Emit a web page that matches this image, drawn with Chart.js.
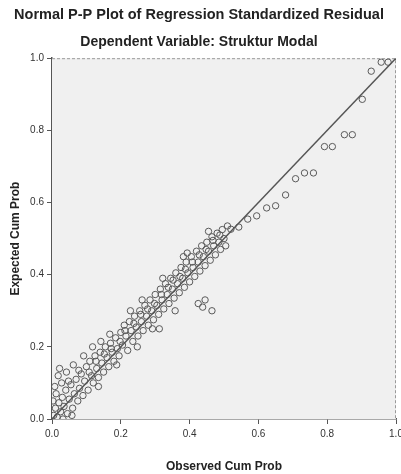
<!DOCTYPE html>
<html>
<head>
<meta charset="utf-8">
<script src="https://cdn.jsdelivr.net/npm/chart.js@4.4.0/dist/chart.umd.min.js"></script>
<style>
  html, body { margin: 0; padding: 0; background: #ffffff; }
  #c { display: block; }
</style>
</head>
<body>
<canvas id="c" width="401" height="474"></canvas>
<script>
// Observed cumulative probability (x) and expected cumulative probability (y)
const observedCumProb = [
  0.005,0.010,0.015,0.020,0.025,0.030,0.012,0.035,0.040,0.045,0.050,0.055,0.060,0.065,0.070,0.075,0.008,0.018,0.028,0.080,0.085,0.090,0.042,0.095,0.100,
  0.105,0.110,0.115,0.120,0.125,0.130,0.135,0.140,0.145,0.150,0.155,0.160,0.165,0.170,0.175,0.180,0.185,0.190,0.195,0.200,0.118,0.142,0.168,0.135,0.188,
  0.205,0.210,0.215,0.220,0.225,0.230,0.235,0.240,0.245,0.250,0.255,0.260,0.265,0.270,0.275,0.280,0.285,0.290,0.295,0.300,0.228,0.262,0.248,0.292,
  0.305,0.310,0.315,0.320,0.325,0.330,0.335,0.340,0.345,0.350,0.355,0.360,0.365,0.370,0.375,0.380,0.385,0.390,0.395,0.400,0.322,0.358,0.382,0.312,0.393,
  0.405,0.410,0.415,0.420,0.425,0.430,0.435,0.440,0.445,0.450,0.455,0.460,0.465,0.470,0.475,0.480,0.485,0.490,0.495,0.500,0.505,0.510,0.438,0.465,0.455,
  0.022,0.048,0.062,0.078,0.092,0.108,0.128,0.152,0.172,0.198,0.212,0.238,0.258,0.278,0.298,0.318,0.338,0.352,0.372,0.388,
  0.408,0.428,0.448,0.468,0.488,0.032,0.058,0.003,0.445,0.425,
  0.520,0.543,0.569,0.595,0.624,0.650,0.679,0.708,0.734,0.760,0.792,0.815,0.850,0.873,0.902,0.928,0.957,0.977
];
const expectedCumProb = [
  0.010,0.030,0.005,0.045,0.020,0.060,0.070,0.035,0.080,0.015,0.055,0.095,0.030,0.070,0.110,0.050,0.090,0.120,0.100,0.085,0.125,0.065,0.130,0.105,0.145,
  0.080,0.160,0.120,0.100,0.175,0.140,0.115,0.185,0.155,0.130,0.200,0.170,0.145,0.210,0.185,0.160,0.225,0.195,0.175,0.240,0.200,0.215,0.235,0.090,0.150,
  0.205,0.260,0.230,0.190,0.270,0.245,0.215,0.285,0.255,0.230,0.300,0.270,0.245,0.315,0.285,0.260,0.330,0.300,0.275,0.345,0.300,0.330,0.200,0.250,
  0.315,0.290,0.360,0.330,0.305,0.375,0.345,0.320,0.390,0.360,0.335,0.405,0.375,0.350,0.420,0.390,0.365,0.435,0.405,0.380,0.390,0.300,0.450,0.250,0.460,
  0.450,0.420,0.395,0.465,0.435,0.410,0.480,0.450,0.425,0.490,0.465,0.440,0.505,0.480,0.455,0.515,0.490,0.470,0.525,0.500,0.480,0.535,0.310,0.300,0.520,
  0.140,0.105,0.150,0.135,0.175,0.130,0.160,0.180,0.195,0.215,0.245,0.265,0.290,0.305,0.320,0.345,0.365,0.385,0.395,0.415,
  0.435,0.455,0.470,0.495,0.510,0.000,0.010,0.050,0.330,0.320,
  0.526,0.532,0.554,0.563,0.585,0.591,0.621,0.666,0.682,0.682,0.755,0.755,0.788,0.788,0.886,0.964,0.989,0.989
];
const axisTicks = [0.0, 0.2, 0.4, 0.6, 0.8, 1.0];
const titleText = 'Normal P-P Plot of Regression Standardized Residual';
const subtitleText = 'Dependent Variable: Struktur Modal';
const xTitle = 'Observed Cum Prob';
const yTitle = 'Expected Cum Prob';

const points = observedCumProb.map((x, i) => ({ x: x, y: expectedCumProb[i] }));
const diagonal = [{ x: axisTicks[0], y: axisTicks[0] }, { x: axisTicks[axisTicks.length - 1], y: axisTicks[axisTicks.length - 1] }];

const plotBg = {
  id: 'plotBg',
  beforeDatasetsDraw(chart) {
    const a = chart.chartArea, ctx = chart.ctx;
    ctx.save();
    ctx.fillStyle = '#f0f0f0';
    ctx.fillRect(a.left, a.top, a.right - a.left, a.bottom - a.top);
    ctx.strokeStyle = '#9a9a9a';
    ctx.lineWidth = 1;
    ctx.setLineDash([3, 2]);
    ctx.beginPath();
    ctx.moveTo(a.left, a.top + 0.5);
    ctx.lineTo(a.right - 0.5, a.top + 0.5);
    ctx.lineTo(a.right - 0.5, a.bottom);
    ctx.stroke();
    ctx.restore();
  }
};

const fontFam = '"Liberation Sans", Arial, sans-serif';

new Chart(document.getElementById('c'), {
  data: {
    datasets: [
      {
        type: 'scatter',
        data: points,
        pointStyle: 'circle',
        pointRadius: 3.2,
        pointBorderWidth: 1,
        pointBorderColor: '#5a5a5a',
        pointBackgroundColor: 'rgba(0,0,0,0)',
        order: 2
      },
      {
        type: 'line',
        data: diagonal,
        borderColor: '#555555',
        borderWidth: 1.5,
        pointRadius: 0,
        fill: false,
        order: 1
      }
    ]
  },
  options: {
    responsive: false,
    animation: false,
    devicePixelRatio: 1,
    layout: { padding: { left: 0, right: 3, top: 0, bottom: 0 } },
    plugins: {
      legend: { display: false },
      tooltip: { enabled: false },
      title: {
        display: true,
        text: titleText,
        color: '#222222',
        font: { family: fontFam, size: 14.5, weight: 'bold' },
        padding: { top: 6, bottom: 5 }
      },
      subtitle: {
        display: true,
        text: subtitleText,
        color: '#222222',
        font: { family: fontFam, size: 14, weight: 'bold' },
        padding: { top: 5, bottom: 8 }
      }
    },
    scales: {
      x: {
        type: 'linear',
        min: 0, max: 1,
        afterBuildTicks(scale) { scale.ticks = axisTicks.map(v => ({ value: v })); },
        afterFit(scale) { scale.height = 55; scale.paddingLeft = 0; scale.paddingRight = 0; },
        ticks: {
          color: '#333333',
          font: { family: fontFam, size: 10 },
          padding: 4,
          maxRotation: 0,
          autoSkip: false,
          callback: v => Number(v).toFixed(1)
        },
        grid: { drawOnChartArea: false, drawTicks: true, tickLength: 5, color: '#555555' },
        border: { display: true, color: '#555555', width: 1.5 },
        title: {
          display: true, text: xTitle, color: '#222222',
          font: { family: fontFam, size: 12, weight: 'bold' },
          padding: { top: 4, bottom: 0 }
        }
      },
      y: {
        type: 'linear',
        min: 0, max: 1,
        afterBuildTicks(scale) { scale.ticks = axisTicks.map(v => ({ value: v })); },
        afterFit(scale) { scale.width = 52; scale.paddingTop = 0; scale.paddingBottom = 0; },
        ticks: {
          color: '#333333',
          font: { family: fontFam, size: 10 },
          padding: 3,
          autoSkip: false,
          callback: v => Number(v).toFixed(1)
        },
        grid: { drawOnChartArea: false, drawTicks: true, tickLength: 5, color: '#555555' },
        border: { display: true, color: '#555555', width: 1.5 },
        title: {
          display: true, text: yTitle, color: '#222222',
          font: { family: fontFam, size: 12, weight: 'bold' },
          padding: { top: 8, bottom: 2 }
        }
      }
    }
  },
  plugins: [plotBg]
});
</script>
</body>
</html>
